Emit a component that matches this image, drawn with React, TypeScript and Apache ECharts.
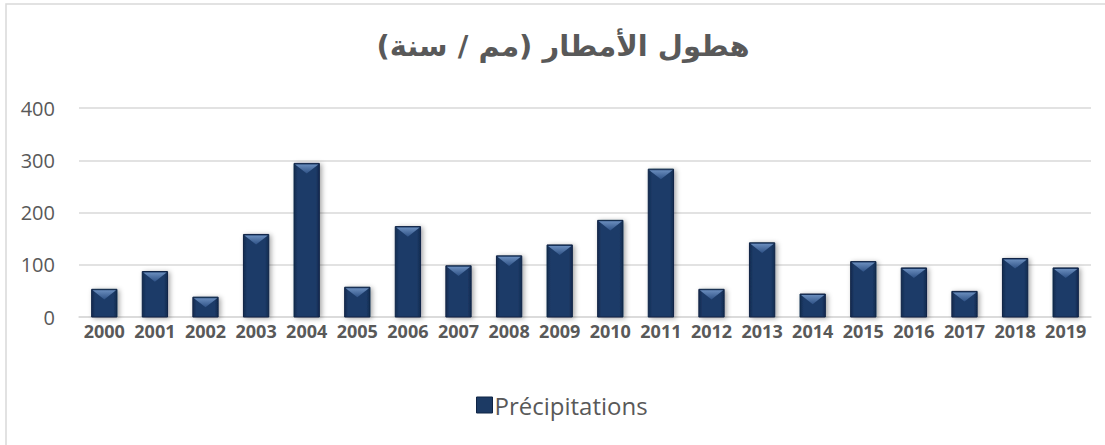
import React, { useEffect, useRef } from "react";
import * as echarts from "echarts";

const years = ["2000","2001","2002","2003","2004","2005","2006","2007","2008","2009","2010","2011","2012","2013","2014","2015","2016","2017","2018","2019"];
const rainfall = [53, 87, 38, 158, 294, 57, 173, 98, 117, 138, 185, 283, 53, 142, 44, 106, 94, 49, 112, 94];
const yTicks = { min: 0, max: 400, interval: 100 };
const titleText = "هطول الأمطار (مم / سنة)";
const seriesName = "Précipitations";

export default function App() {
  const ref = useRef<HTMLDivElement>(null);
  useEffect(() => {
    const chart = echarts.init(ref.current!, null, { renderer: "svg" });
    chart.setOption({
      animation: false,
      backgroundColor: "#ffffff",
      title: {
        text: titleText,
        left: 558,
        textAlign: "center",
        top: 26,
        textStyle: { fontFamily: "DejaVu Sans", fontWeight: "bold", fontSize: 29, color: "#595959" },
      },
      graphic: [
        {
          type: "rect",
          shape: { x: 6, y: 4, width: 1110, height: 460 },
          style: { fill: "none", stroke: "#d9d9d9", lineWidth: 1.5 },
          silent: true,
        },
      ],
      legend: {
        data: [{ name: seriesName, icon: "rect" }],
        left: 476,
        top: 393,
        padding: 0,
        itemWidth: 16,
        itemHeight: 16,
        itemGap: 6,
        itemStyle: { color: "#1c3a64", borderColor: "#0f2445", borderWidth: 1 },
        textStyle: { fontFamily: "Open Sans", fontSize: 24, color: "#595959", padding: [0, 0, 0, -3] },
      },
      grid: { left: 79, right: 14, top: 108, bottom: 128, containLabel: false },
      xAxis: {
        type: "category",
        data: years,
        axisLine: { show: true, lineStyle: { color: "#d9d9d9", width: 1.5 } },
        axisTick: { show: false },
        axisLabel: { fontFamily: "Open Sans", fontWeight: "bold", fontSize: 18, color: "#595959", margin: 5, interval: 0 },
      },
      yAxis: {
        type: "value",
        min: yTicks.min,
        max: yTicks.max,
        interval: yTicks.interval,
        axisLine: { show: false },
        axisTick: { show: false },
        splitLine: { lineStyle: { color: "#d9d9d9", width: 1.5 } },
        axisLabel: { fontFamily: "Open Sans", fontSize: 20, color: "#595959", margin: 24 },
      },
      series: [
        {
          name: seriesName,
          type: "custom",
          data: rainfall.map((v, i) => [i, v]),
          encode: { x: 0, y: 1 },
          itemStyle: { color: "#1c3a64" },
          renderItem: (params: any, api: any) => {
            const idx = api.value(0);
            const val = api.value(1);
            const top = api.coord([idx, val]);
            const base = api.coord([idx, 0]);
            const w = api.size([1, 0])[0] * 0.5;
            const x0 = top[0] - w / 2;
            const h = base[1] - top[1];
            const tri = Math.min(w * 0.4, h);
            return {
              type: "group",
              children: [
                {
                  type: "rect",
                  shape: { x: x0, y: top[1], width: w, height: h },
                  style: {
                    fill: new echarts.graphic.LinearGradient(0, 0, 1, 0, [
                      { offset: 0, color: "#132b50" },
                      { offset: 0.15, color: "#1d3b68" },
                      { offset: 0.85, color: "#1d3b68" },
                      { offset: 1, color: "#132b50" },
                    ]),
                    stroke: "#0f2445",
                    lineWidth: 1,
                    shadowBlur: 5,
                    shadowColor: "rgba(0,0,0,0.35)",
                    shadowOffsetX: 2,
                    shadowOffsetY: 1,
                  },
                },
                {
                  type: "polygon",
                  shape: { points: [[x0 + 1, top[1] + 1], [x0 + w - 1, top[1] + 1], [top[0], top[1] + tri]] },
                  style: {
                    fill: new echarts.graphic.LinearGradient(0, 0, 0, 1, [
                      { offset: 0, color: "#6a8dbd" },
                      { offset: 1, color: "#2f5286" },
                    ]),
                  },
                },
              ],
            };
          },
        },
      ],
    });
    return () => chart.dispose();
  }, []);
  return <div ref={ref} style={{ position: "absolute", left: 0, top: 0, width: 1105, height: 445 }} />;
}
